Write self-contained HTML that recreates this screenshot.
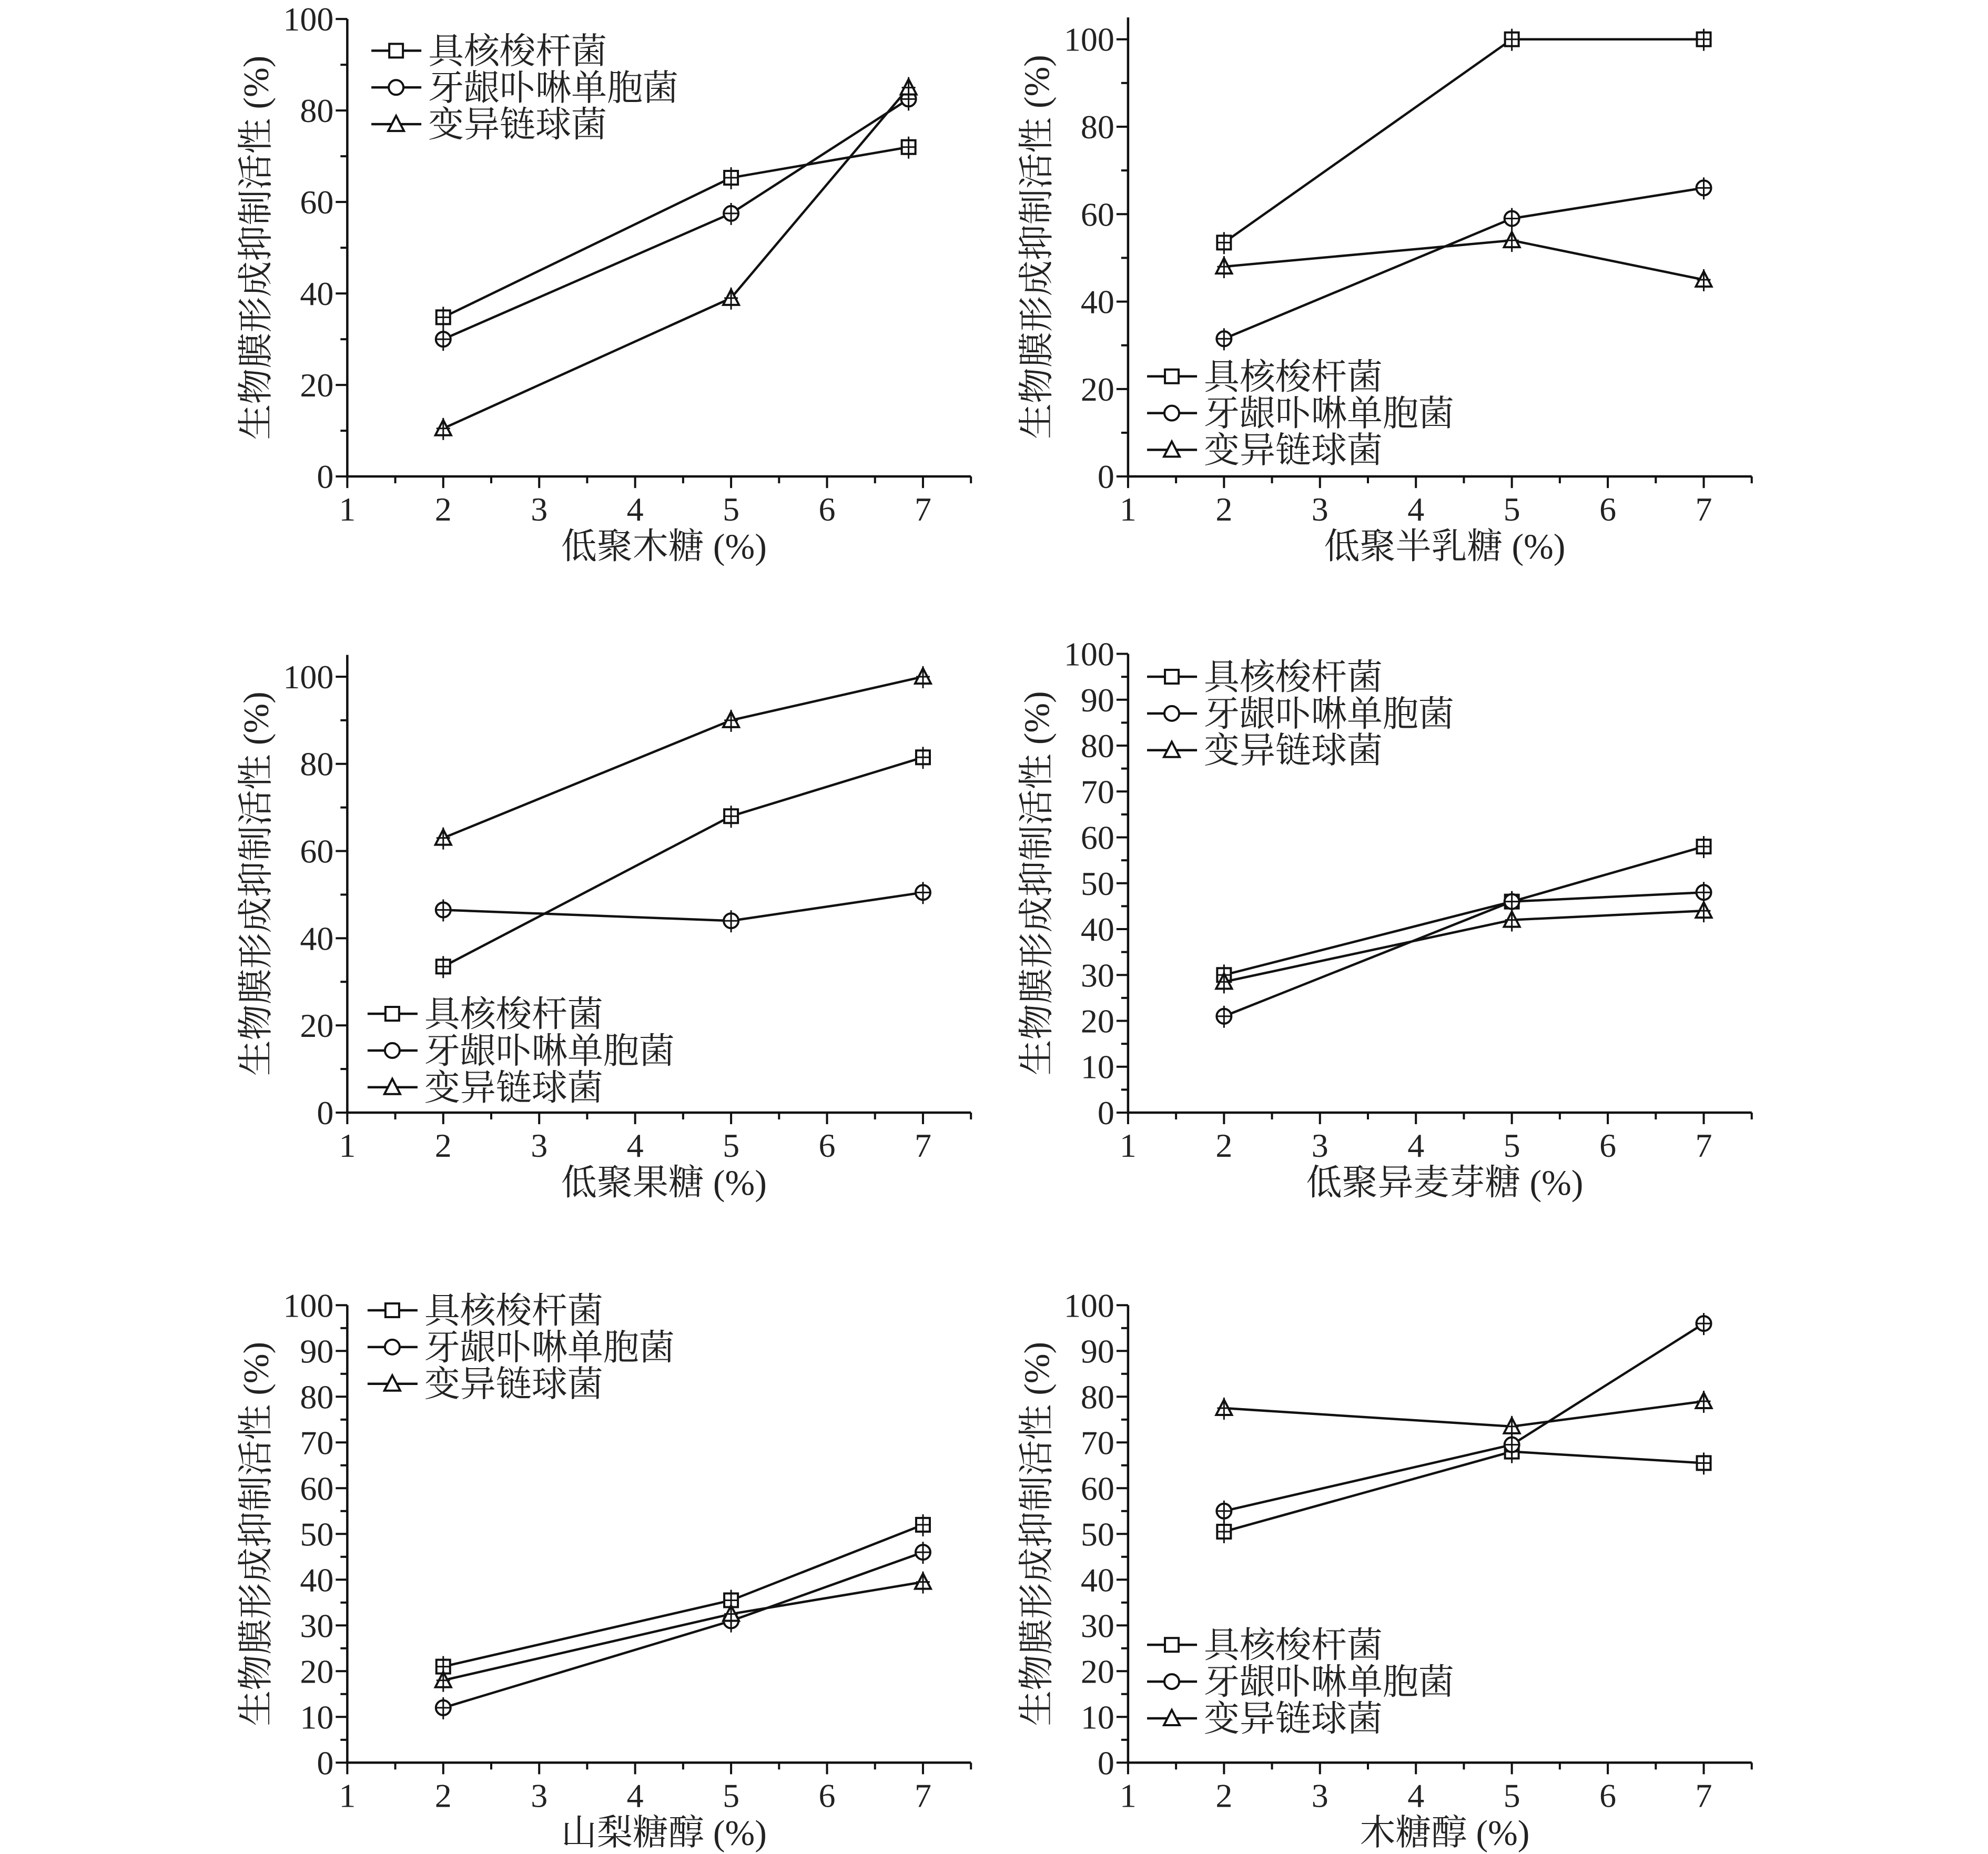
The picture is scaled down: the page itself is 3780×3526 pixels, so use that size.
<!DOCTYPE html>
<html><head><meta charset="utf-8"><style>
html,body{margin:0;padding:0;background:#fff;}
svg{display:block;}
text{font-family:"Liberation Serif","Noto Serif CJK SC",serif;fill:#222;}
</style></head><body>
<svg id="chart" width="3780" height="3526" viewBox="0 0 3780 3526" xmlns="http://www.w3.org/2000/svg"></svg>
<script>
const S = 2.41;
const xCats = [2, 5, 7];
const xLastP1 = [2, 5, 6.85];
const xTicks = [1, 2, 3, 4, 5, 6, 7];
const seriesNames = ["具核梭杆菌", "牙龈卟啉单胞菌", "变异链球菌"];
const p1Sq = [34.8, 65.3, 72], p1Ci = [30, 57.5, 82.5], p1Tr = [10.5, 39, 85];
const p2Sq = [53.5, 100, 100], p2Ci = [31.5, 59, 66], p2Tr = [48, 54, 45];
const p3Sq = [33.5, 68, 81.5], p3Ci = [46.5, 44, 50.5], p3Tr = [63, 90, 100];
const p4Sq = [30, 46, 58], p4Ci = [21, 46, 48], p4Tr = [28.5, 42, 44];
const p5Sq = [21, 35.5, 52], p5Ci = [12, 31, 46], p5Tr = [18, 32.5, 39.5];
const p6Sq = [50.5, 68, 65.5], p6Ci = [55, 69.5, 96], p6Tr = [77.5, 73.5, 79];
const xTitles = ["低聚木糖 (%)", "低聚半乳糖 (%)", "低聚果糖 (%)", "低聚异麦芽糖 (%)", "山梨糖醇 (%)", "木糖醇 (%)"];
const yTitle = "生物膜形成抑制活性 (%)";
const yTicks20 = [0, 20, 40, 60, 80, 100];
const yTicks10 = [0, 10, 20, 30, 40, 50, 60, 70, 80, 90, 100];

const panels = [
  {ax:274, y0:376, y100:15, ymax:100, yt:yTicks20, minor:10, xs:xLastP1, d:[p1Sq,p1Ci,p1Tr], lg:[293,40], t:xTitles[0]},
  {ax:890, y0:376, y100:31, ymax:105, yt:yTicks20, minor:10, xs:xCats, d:[p2Sq,p2Ci,p2Tr], lg:[905,297], t:xTitles[1]},
  {ax:274, y0:878, y100:534, ymax:105, yt:yTicks20, minor:10, xs:xCats, d:[p3Sq,p3Ci,p3Tr], lg:[290,800], t:xTitles[2]},
  {ax:890, y0:878, y100:516, ymax:100, yt:yTicks10, minor:5, xs:xCats, d:[p4Sq,p4Ci,p4Tr], lg:[905,534], t:xTitles[3]},
  {ax:274, y0:1391, y100:1030, ymax:100, yt:yTicks10, minor:5, xs:xCats, d:[p5Sq,p5Ci,p5Tr], lg:[290,1034], t:xTitles[4]},
  {ax:890, y0:1391, y100:1030, ymax:100, yt:yTicks10, minor:5, xs:xCats, d:[p6Sq,p6Ci,p6Tr], lg:[905,1298], t:xTitles[5]}
];
const NS = "http://www.w3.org/2000/svg";
const svg = document.getElementById("chart");
function mk(tag, attrs, parent){const e=document.createElementNS(NS,tag);for(const k in attrs)e.setAttribute(k,attrs[k]);(parent||svg).appendChild(e);return e;}
const LW = 4.5, MS = 13;
function marker(g, kind, cx, cy){
  let e;
  if(kind===0) e=mk("rect",{x:cx-MS,y:cy-MS,width:2*MS,height:2*MS,fill:"#fff",stroke:"#111","stroke-width":4},g);
  else if(kind===1) e=mk("circle",{cx:cx,cy:cy,r:MS+1,fill:"#fff",stroke:"#111","stroke-width":4},g);
  else e=mk("polygon",{points:`${cx},${cy-MS-3} ${cx-MS-2},${cy+MS} ${cx+MS+2},${cy+MS}`,fill:"#fff",stroke:"#111","stroke-width":4},g);
  return e;
}
panels.forEach((p, i) => {
  const g = mk("g", {});
  
  
  const unit = 75.7;
  const xs = v => (p.ax + (v-1)*unit) * S;
  const ys = v => (p.y0 - (p.y0 - p.y100) * v / 100) * S;
  const X0 = p.ax*S, Y0 = p.y0*S, Xend = xs(7.5), Ytop = ys(p.ymax);
  const axes = mk("path", {d:`M${X0},${Ytop} L${X0},${Y0} L${Xend},${Y0}`, fill:"none", stroke:"#111", "stroke-width":4.5}, g);
  
  
  for (let v = 1; v <= 7.5001; v += 0.5) {
    const maj = Math.abs(v - Math.round(v)) < 1e-6;
    mk("line", {x1:xs(v), y1:Y0, x2:xs(v), y2:Y0 + (maj?22:13), stroke:"#111", "stroke-width":4}, g);
  }
  xTicks.forEach(v => {
    const t = mk("text", {x:xs(v), y:Y0+84, "font-size":64, "text-anchor":"middle"}, g);
    t.textContent = v;
    
    
  });
  for (let v = 0; v <= p.ymax + 0.001; v += p.minor) {
    const maj = p.yt.includes(v);
    mk("line", {x1:X0, y1:ys(v), x2:X0 - (maj?22:13), y2:ys(v), stroke:"#111", "stroke-width":4}, g);
  }
  p.yt.forEach(v => {
    const t = mk("text", {x:X0-26, y:ys(v)+22, "font-size":64, "text-anchor":"end"}, g);
    t.textContent = v;
    
    
  });
  const xt = mk("text", {x:xs(4.3), y:Y0+156, "font-size":68, "text-anchor":"middle"}, g);
  xt.textContent = p.t;
  
  
  const ycx = X0 - 175, ycy = (Y0 + ys(p.ymax)) / 2;
  const yt = mk("text", {x:ycx, y:ycy, "font-size":68, "text-anchor":"middle", transform:`rotate(-90 ${ycx} ${ycy})`, dy:24}, g);
  yt.textContent = yTitle;
  
  
  p.d.forEach((vals, k) => {
    const sg = mk("g", {}, g);
    
    
    const pts = vals.map((v, j) => [xs(p.xs[j]), ys(v)]);
    mk("polyline", {points:pts.map(q=>q.join(",")).join(" "), fill:"none", stroke:"#111", "stroke-width":LW}, sg);
    pts.forEach(q => {
      const m = marker(sg, k, q[0], q[1]);
      
      
      mk("line", {x1:q[0], y1:q[1]-20, x2:q[0], y2:q[1]+22, stroke:"#111", "stroke-width":3}, sg);
      mk("line", {x1:q[0]-MS, y1:q[1], x2:q[0]+MS, y2:q[1], stroke:"#111", "stroke-width":3}, sg);
    });
  });
  seriesNames.forEach((n, k) => {
    const lx = p.lg[0]*S, ly = (p.lg[1] + k*29)*S;
    const lg = mk("g", {}, g);
    
    
    mk("line", {x1:lx, y1:ly, x2:lx+95, y2:ly, stroke:"#111", "stroke-width":LW}, lg);
    marker(lg, k, lx+47, ly);
    const t = mk("text", {x:lx+108, y:ly+24, "font-size":68}, lg);
    t.textContent = n;
  });
});
</script>
</body></html>
